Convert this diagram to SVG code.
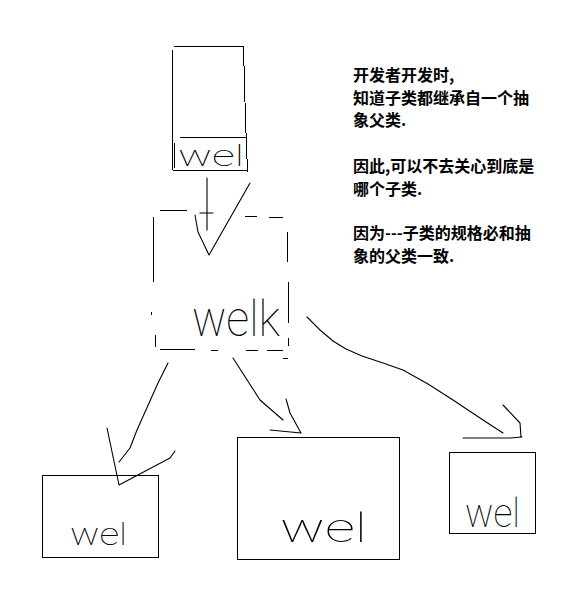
<svg xmlns="http://www.w3.org/2000/svg" width="572" height="608" viewBox="0 0 572 608">
<style>
.ln{fill:none;stroke:#000;stroke-width:1;shape-rendering:crispEdges}
.cv{fill:none;stroke:#000;stroke-width:1.1;stroke-linejoin:round;stroke-linecap:round}
.hw{font-family:Roboto,"Open Sans","DejaVu Sans",sans-serif;font-weight:100;fill:#000}
.note{font-family:"Noto Sans CJK SC","Noto Sans",sans-serif;font-size:16px;font-weight:700;fill:#000}
</style>
<rect width="572" height="608" fill="#fff"/>
<g id="node-top">
<path class="ln" d="M173.5 46.5H243.5M172.5 50V170M173 170.5H247.5M243.5 47L245.5 120L247.5 172M180 137.5H247M174.5 143V168"/>
<text class="hw" x="178" y="166" font-size="30" textLength="66" lengthAdjust="spacingAndGlyphs">wel</text>
</g>
<g id="node-abstract">
<path class="ln" d="M160 210.5H187M245 216.5H257M269 217.5H283M153.5 217V282M151.5 312V315M155.5 335V347M287.5 232V262M288.5 282V323M288.5 338V346M160 349.5H195M211 350.5H218M246 350.5H258M267 350.5H283M283 358.5H288"/>
<text class="hw" x="192" y="336" font-size="50" textLength="88" lengthAdjust="spacingAndGlyphs">welk</text>
</g>
<g id="node-left">
<rect class="ln" x="42.5" y="475.5" width="116" height="82"/>
<text class="hw" x="70" y="545" font-size="32" textLength="57" lengthAdjust="spacingAndGlyphs">wel</text>
</g>
<g id="node-middle">
<rect class="ln" x="237.5" y="437.5" width="162" height="122"/>
<text class="hw" x="280" y="542" font-size="40" textLength="87" lengthAdjust="spacingAndGlyphs">wel</text>
</g>
<g id="node-right">
<rect class="ln" x="449.5" y="452.5" width="86" height="81"/>
<text class="hw" x="465" y="527" font-size="40" textLength="55" lengthAdjust="spacingAndGlyphs">wel</text>
</g>
<g id="connectors">
<path class="cv" d="M207 178V230M200 213H213M195 215L198 232L209 255L250 183"/>
<path class="cv" d="M168 363L158 383L137 430L130 448L119 462M107 428L119 485L170 458L175 451"/>
<path class="cv" d="M233 358L260 400L283 420M286 399L290 413L301 433L270 430"/>
<path class="cv" d="M307 317L320 330L333 341L346 349L362 356L383 363L403 370L428 384L453 400L483 420L503 433M503 405L520 423L521 437M463 438L510 438L522 437"/>
</g>
<g id="note" class="note">
<text x="353" y="81">开发者开发时,</text>
<text x="353" y="103.5">知道子类都继承自一个抽</text>
<text x="353" y="126">象父类.</text>
<text x="353" y="171.5">因此,可以不去关心到底是</text>
<text x="353" y="194.5">哪个子类.</text>
<text x="353" y="239">因为---子类的规格必和抽</text>
<text x="353" y="262">象的父类一致.</text>
</g>
</svg>
